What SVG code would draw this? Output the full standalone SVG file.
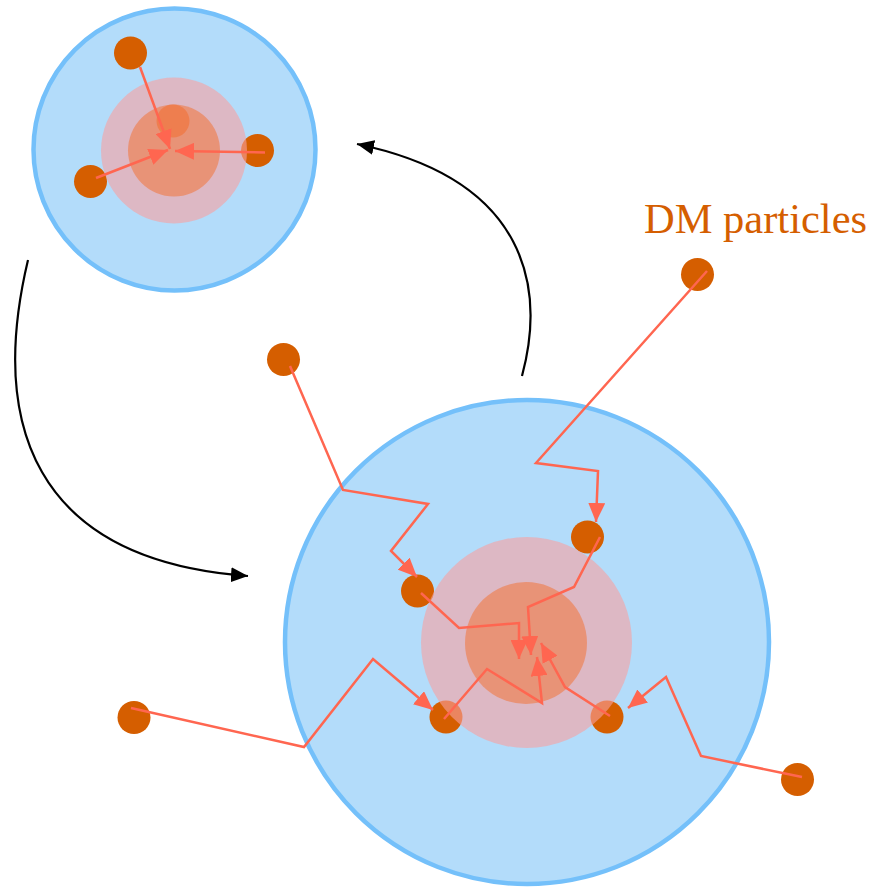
<svg xmlns="http://www.w3.org/2000/svg" width="875" height="887" viewBox="0 0 875 887">
  <defs>
    <marker id="redArrow" viewBox="0 0 10 10" refX="10" refY="5" markerUnits="userSpaceOnUse" markerWidth="19" markerHeight="17" orient="auto" preserveAspectRatio="none">
      <path d="M0,0 L10,5 L0,10 z" fill="#FF6650"/>
    </marker>
    <marker id="blackArrow" viewBox="0 0 10 10" refX="10" refY="5" markerUnits="userSpaceOnUse" markerWidth="17" markerHeight="15" orient="auto" preserveAspectRatio="none">
      <path d="M0,0 L10,5 L0,10 z" fill="#000"/>
    </marker>
  </defs>
  <style>
    .halo-outer { fill: #B3DCFA; stroke: #74C0FA; stroke-width: 4.5; }
    .halo-pink { fill: #F9A0A0; fill-opacity: 0.6; }
    .core { fill: #F07A45; fill-opacity: 0.6; }
    .particle { fill: #D55E00; }
    .path { fill: none; stroke: #FF6650; stroke-width: 2.5; stroke-linejoin: miter; marker-end: url(#redArrow); }
    .flow { fill: none; stroke: #000; stroke-width: 2.2; marker-end: url(#blackArrow); }
    .label { font-family: "Liberation Serif", "Times New Roman", serif; font-size: 42.5px; fill: #D55E00; }
  </style>

  <g id="halo-small">
    <circle class="halo-outer" cx="174.5" cy="149.5" r="141"/>
  </g>
  <g id="halo-large">
    <circle class="halo-outer" cx="527" cy="642" r="242"/>
  </g>

  <g id="particles">
    <circle id="p-s-top" class="particle" cx="130.5" cy="53" r="16.5"/>
    <circle id="p-s-left" class="particle" cx="90.5" cy="181.5" r="16.5"/>
    <circle id="p-s-right" class="particle" cx="257.5" cy="150.5" r="16.5"/>
    <circle id="p-s-hidden" class="particle" cx="173" cy="121" r="16.5"/>
    <circle id="p-out-tl" class="particle" cx="283.5" cy="359.5" r="16.5"/>
    <circle id="p-out-tr" class="particle" cx="697.5" cy="274.5" r="16.5"/>
    <circle id="p-out-l" class="particle" cx="134" cy="717.5" r="16.5"/>
    <circle id="p-out-r" class="particle" cx="797.5" cy="779.5" r="16.5"/>
    <circle id="p-in-1" class="particle" cx="417.5" cy="591" r="16.5"/>
    <circle id="p-in-2" class="particle" cx="587.5" cy="537" r="16.5"/>
    <circle id="p-in-3" class="particle" cx="446" cy="717" r="16.5"/>
    <circle id="p-in-4" class="particle" cx="607" cy="717" r="16.5"/>
  </g>

  <g id="cores">
    <g id="core-small">
      <circle class="halo-pink" cx="174" cy="150.5" r="73"/>
      <circle class="core" cx="174" cy="150.5" r="46"/>
    </g>
    <g id="core-large">
      <circle class="halo-pink" cx="526.5" cy="642.5" r="105.5"/>
      <circle class="core" cx="526" cy="643" r="61"/>
    </g>
  </g>

  <g id="connectors">
    <path class="path" d="M140,67 L170,149"/>
    <path class="path" d="M96,178 L168,150"/>
    <path class="path" d="M265,152.5 L175,151"/>

    <path class="path" d="M290,366 L343,490 L428,504 L391,551 L417,577"/>
    <path class="path" d="M421,593 L459,628 L519,623 L519,659"/>
    <path class="path" d="M707,271 L536,463 L598,471 L596,522"/>
    <path class="path" d="M600,537 L574,587 L528,607 L531,655"/>
    <path class="path" d="M131,708 L304,747 L373,659 L433,710"/>
    <path class="path" d="M444,719 L487,669 L542,703 L537,657"/>
    <path class="path" d="M802,777 L701,756 L666,677 L628,708"/>
    <path class="path" d="M610,716 L565,687 L541,643"/>

    <path class="flow" d="M28,260 C -10,420 30,560 248,576"/>
    <path class="flow" d="M522,376 C 545,290 530,180 357,144"/>
  </g>

  <g id="label">
    <text class="label" x="644" y="233">DM particles</text>
  </g>
</svg>
